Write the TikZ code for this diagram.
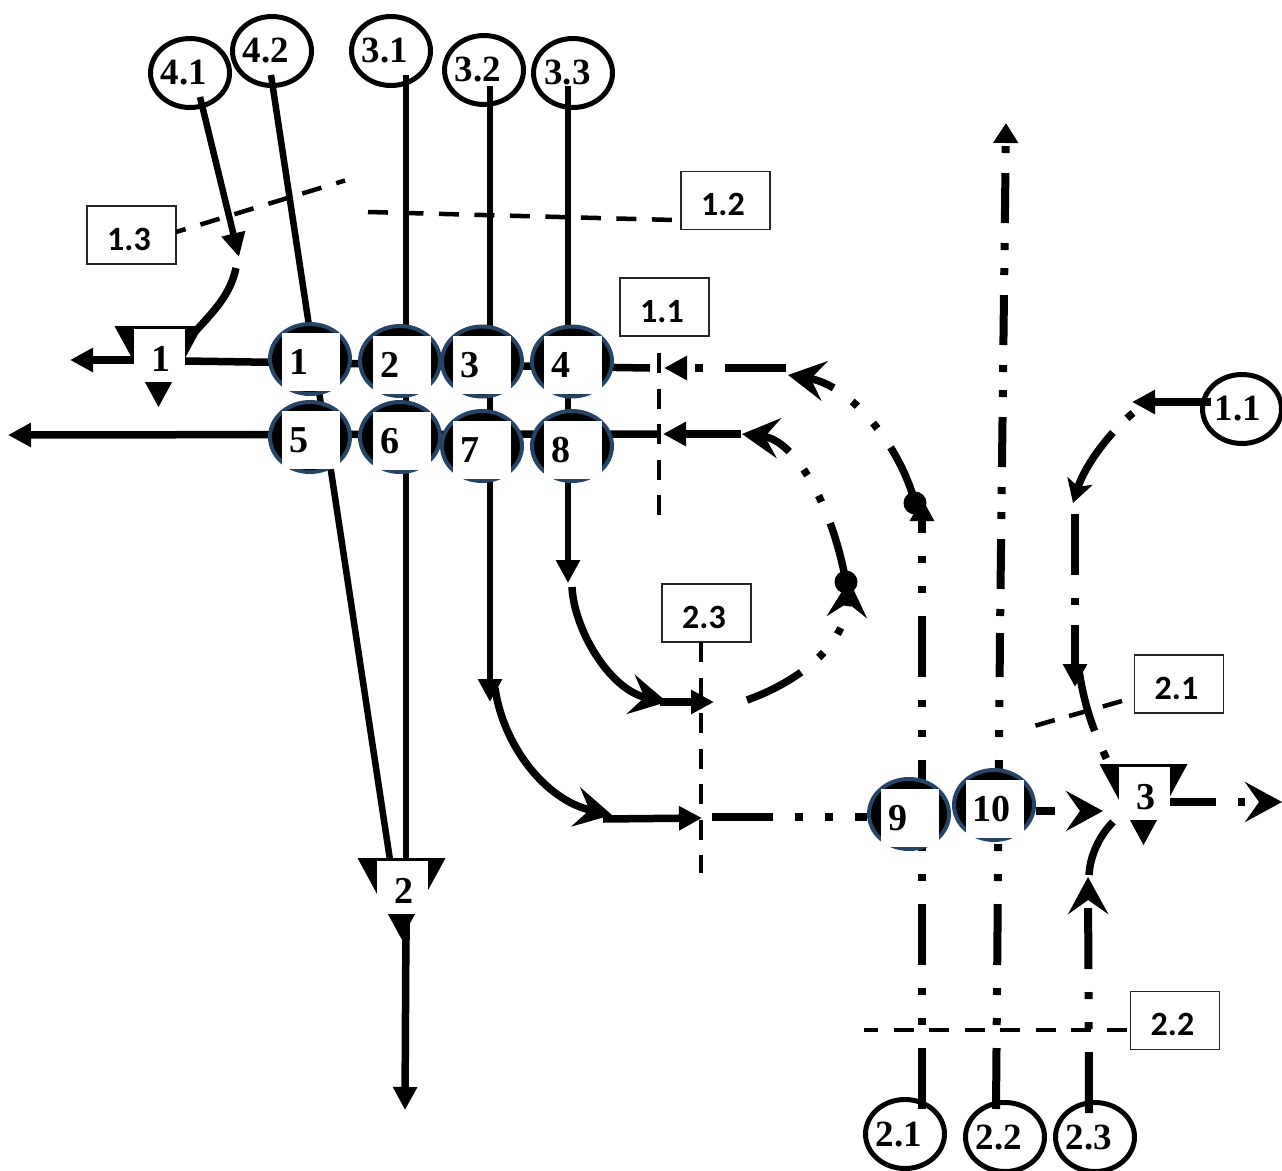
\documentclass[tikz,border=0pt]{standalone}
\usepackage{fontspec}
\newfontfamily\numfont{Liberation Serif}
\newfontfamily\boxfont{Carlito}
\usetikzlibrary{arrows.meta,shapes.geometric}
\definecolor{jblue}{HTML}{264465}
\tikzset{
  road/.style={line width=7.5pt,black},
  thick road/.style={line width=8pt,black},
  guide/.style={line width=4.5pt,black,dash pattern=on 20pt off 15.5pt},
  ddot/.style={dash pattern=on 61pt off 23pt on 7pt off 23pt on 7pt off 23pt},
  ddots/.style={dash pattern=on 50pt off 20pt on 7pt off 18pt on 7pt off 20pt},
  tri/.style={-{Triangle[length=23pt,width=23pt]}},
  stl/.style={-{Stealth[length=37pt,width=40pt,inset=14pt]}},
  stlsmall/.style={-{Stealth[length=23pt,width=26pt,inset=6pt]}},
  ringnode/.style={ellipse,draw=black,line width=5pt,minimum width=79pt,minimum height=69pt,inner sep=0pt},
  ringtext/.style={font=\numfont\bfseries\fontsize{37}{37}\selectfont},
  labelbox/.style={rectangle,draw=black!85,line width=1.8pt,fill=white,minimum width=89pt,minimum height=58pt,inner sep=0pt,font=\boxfont\bfseries\fontsize{34}{34}\selectfont},
  jring/.style={ellipse,draw=jblue,fill=black,line width=4pt,minimum width=80pt,minimum height=70pt,inner sep=0pt},
  jsquare/.style={rectangle,fill=white,minimum width=58pt,minimum height=58pt,inner sep=0pt,font=\numfont\bfseries\fontsize{38}{38}\selectfont},
  ysquare/.style={rectangle,fill=white,minimum width=51pt,minimum height=53pt,inner sep=0pt,font=\numfont\bfseries\fontsize{38}{38}\selectfont},
  ball/.style={circle,fill=black,minimum size=23pt,inner sep=0pt}
}
\newcommand{\ringt}[1]{\makebox[0pt]{#1\kern12pt}}
\newcommand{\boxt}[1]{\raisebox{-15pt}[0pt][0pt]{\makebox[0pt]{#1\kern5pt}}}
\newcommand{\jt}[2]{\makebox[0pt]{#1\kern#2pt}}
\newcommand{\yt}[1]{\raisebox{-16pt}[0pt][0pt]{\makebox[0pt]{\kern3pt #1}}}
\newcommand{\jct}[6]{%
  \node[jring] (r#1) at (#2,#3) {};
  \node[jsquare] (j#1) at (#4,#5) {\jt{#1}{#6}};}
\newcommand{\yld}[4]{%
  \fill[shift={(#2,#3)}] (-44,0) -- (44,0) -- (0,81) -- cycle;
  \node[ysquare,shift={(#2,#3)}] (#1) at (1,29.5) {\yt{#4}};}
\begin{document}
\begin{tikzpicture}[x=1pt,y=-1pt]
\useasboundingbox (0,0) rectangle (1282,1170);
% origin / destination rings
\node[ringnode,ringtext] (c41) at (190,73) {\ringt{4.1}};
\node[ringnode,ringtext] (c42) at (272,51) {\ringt{4.2}};
\node[ringnode,ringtext] (c31) at (391,51) {\ringt{3.1}};
\node[ringnode,ringtext] (c32) at (484,70) {\ringt{3.2}};
\node[ringnode,ringtext] (c33) at (573,73) {\makebox[0pt]{3.3\kern11pt}};
\node[ringnode,ringtext] (c11) at (1242,409) {\makebox[0pt]{1.1\kern8pt}};
\node[ringnode,ringtext] (c21) at (905,1134) {\ringt{2.1}};
\node[ringnode,ringtext] (c22) at (1005,1137) {\ringt{2.2}};
\node[ringnode,ringtext] (c23) at (1095,1137) {\ringt{2.3}};
% label boxes
\node[labelbox] (b13) at (131.5,235) {\boxt{1.3}};
\node[labelbox] (b12) at (725.5,200.5) {\boxt{1.2}};
\node[labelbox] (b11) at (664.5,307) {\boxt{1.1}};
\node[labelbox] (b23) at (706.5,613) {\boxt{2.3}};
\node[labelbox] (b21) at (1179,684) {\boxt{2.1}};
\node[labelbox] (b22) at (1175,1020.5) {\boxt{2.2}};
% named way points
\coordinate (a41) at (200,97);
\coordinate (t41) at (239,257);
\coordinate (a42) at (271,75);
\coordinate (e42) at (390,860);
\coordinate (a31) at (406,75);
\coordinate (e31) at (406,860);
\coordinate (a32) at (490,86);
\coordinate (t32) at (490,702);
\coordinate (a33) at (568,86);
\coordinate (t33) at (568,583);
\coordinate (s41) at (236,268);
\coordinate (e41) at (192,335);
\coordinate (rowAr) at (650,368);
\coordinate (rowAl) at (185,361);
\coordinate (out1a) at (134,360);
\coordinate (out1b) at (70,360);
\coordinate (rowBr) at (660,434);
\coordinate (rowBl) at (8,435);
\coordinate (d2a) at (406,915);
\coordinate (d2b) at (405,1110);
\coordinate (s32) at (495,688);
\coordinate (t32b) at (612,815);
\coordinate (l32a) at (603,819);
\coordinate (l32b) at (702,818);
\coordinate (s33) at (572,587);
\coordinate (t33b) at (667,702);
\coordinate (l33a) at (660,702);
\coordinate (l33b) at (714,702);
\coordinate (r9a) at (712,817);
\coordinate (r9b) at (867,817);
\coordinate (s10) at (1036,811);
\coordinate (t10) at (1103,811);
\coordinate (s3) at (1169,802);
\coordinate (t3) at (1282,802);
\coordinate (ca1) at (747,700);
\coordinate (ta1) at (849,580);
\coordinate (tb1) at (742,434);
\coordinate (lb1) at (741,434);
\coordinate (lb2) at (663,434);
\coordinate (v9a) at (922,1109);
\coordinate (v9b) at (922,498);
\coordinate (tc1) at (788,375);
\coordinate (ld1) at (786,368);
\coordinate (ld2) at (664,368);
\coordinate (v10a) at (996,1109);
\coordinate (v10b) at (1000,633);
\coordinate (v10c) at (1006,123);
\coordinate (v23a) at (1089,1113);
\coordinate (v23b) at (1088,877);
\coordinate (v23c) at (1089,875);
\coordinate (v23d) at (1113,822);
\coordinate (a11) at (1211,402);
\coordinate (t11) at (1132,402);
\coordinate (s11) at (1133,413);
\coordinate (t11b) at (1073,503);
\coordinate (va) at (1075,514);
\coordinate (vb) at (1075,687);
\coordinate (sv) at (1079,671);
\coordinate (ev) at (1108,762);
% guide lines
\coordinate (g13) at (345,180.5);
\coordinate (g13s) at (176,232);
\coordinate (g12) at (368,212);
\coordinate (g12s) at (674,220);
\coordinate (g11a) at (659,353);
\coordinate (g11b) at (659,515);
\coordinate (g23a) at (701,642);
\coordinate (g23b) at (701,873);
\coordinate (g21a) at (1122,701);
\coordinate (g21b) at (1034,726);
\coordinate (g22a) at (1130,1030);
\coordinate (g22b) at (864,1030);
\draw[guide,dash phase=10pt] (g13s) -- (g13);
\draw[guide] (g12) -- (g12s);
\draw[guide] (g11a) -- (g11b);
\draw[guide] (g23a) -- (g23b);
\draw[guide,dash pattern=on 20pt off 15pt] (g21a) -- (g21b);
\draw[guide,dash phase=6pt] (g22b) -- (g22a);
% main lines
\draw[road,line width=6.5pt,-{Triangle[length=24pt,width=23pt]}] (a41) -- (t41);
\draw[road,line width=6.5pt] (a42) -- (e42);
\draw[road,line width=6.5pt] (a31) -- (e31);
\draw[road,line width=6.5pt,tri] (a32) -- (t32);
\draw[road,line width=6.5pt,tri] (a33) -- (t33);
\draw[road] (s41) .. controls (230,295) and (215,310) .. (e41);
\draw[road] (rowAr) -- (rowAl);
\draw[road,tri] (out1a) -- (out1b);
\draw[road,tri] (rowBr) -- (rowBl);
\draw[road,tri] (d2a) -- (d2b);
\draw[road,stl] (s32) .. controls (503,745) and (545,800) .. (t32b);
\draw[road,tri] (l32a) -- (l32b);
\draw[road,stl] (s33) .. controls (574,630) and (610,690) .. (t33b);
\draw[road,tri] (l33a) -- (l33b);
\draw[thick road,dash pattern=on 61pt off 22pt on 8pt off 22pt on 8pt off 22pt] (r9a) -- (r9b);
\draw[thick road,stl,dash pattern=on 19pt off 100pt] (s10) -- (t10);
\draw[thick road,stl,dash pattern=on 47pt off 22pt on 7pt off 100pt] (s3) -- (t3);
% loops
\draw[road,ddot,stl] (ca1) .. controls (790,685) and (845,650) .. (ta1);
\draw[road,ddot,stl] (846,582) .. controls (832,505) and (795,440) .. (tb1);
\draw[road,tri] (lb1) -- (lb2);
\draw[thick road,ddot,tri] (v9a) -- (v9b);
\draw[road,ddot,stl] (915,503) .. controls (900,445) and (850,385) .. (tc1);
\draw[thick road,tri,dash pattern=on 61pt off 22pt on 8pt off 60pt] (ld1) -- (ld2);
\node[ball] (ballA) at (846,582) {};
\node[ball] (ballB) at (915,503) {};
\draw[thick road,ddot] (v10a) -- (v10b);
\draw[thick road,ddots,dash phase=78pt,-{Triangle[length=20pt,width=24pt]}] (v10b) -- (v10c);
\draw[thick road,ddot,stl] (v23a) -- (v23b);
\draw[road] (v23c) .. controls (1090,855) and (1100,835) .. (v23d);
\draw[road,tri] (a11) -- (t11);
\draw[road,dash pattern=on 8pt off 20pt on 200pt,stlsmall] (s11) .. controls (1110,432) and (1085,465) .. (t11b);
\draw[thick road,tri,dash pattern=on 61pt off 23pt on 7pt off 20pt on 100pt] (va) -- (vb);
\draw[road,dash pattern=on 62pt off 22pt on 8pt off 100pt] (sv) .. controls (1083,695) and (1088,720) .. (ev);
% junctions
\jct{1}{310}{359}{311}{362}{25}
\jct{2}{400}{361}{402}{365}{25}
\jct{3}{482}{361.5}{482}{365}{24}
\jct{4}{572}{361.5}{573}{365}{25}
\jct{5}{310}{437}{311}{440}{25}
\jct{6}{400}{437}{402}{441}{25}
\jct{7}{482}{446}{482}{450}{24}
\jct{8}{572}{446}{573}{450}{25}
\jct{9}{909}{814}{910}{818}{25}
\jct{10}{994}{805}{995}{809}{8}
% yield signs
\yld{y1}{158.5}{326}{1}
\yld{y2}{401.5}{858}{2}
\yld{y3}{1143.5}{764}{3}
\draw[road] (d2a) -- ++(0,25);
\end{tikzpicture}
\end{document}
